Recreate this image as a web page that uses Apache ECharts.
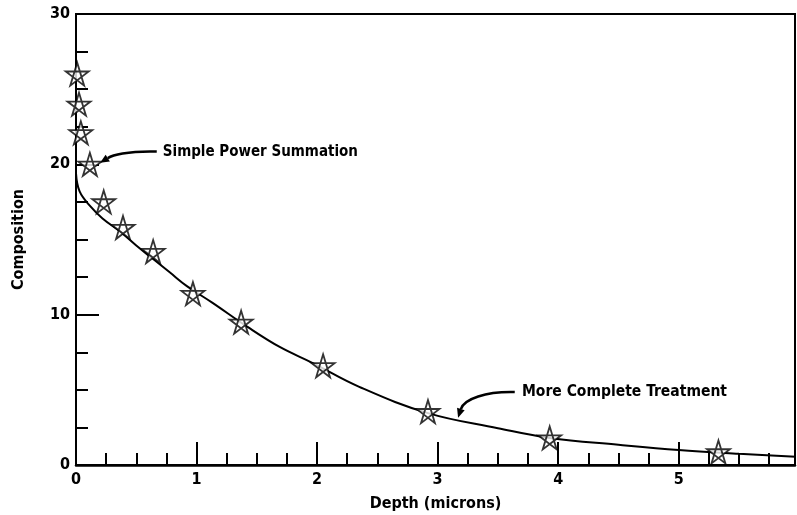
<!DOCTYPE html>
<html><head><meta charset="utf-8">
<script src="https://cdn.jsdelivr.net/npm/echarts@6/dist/echarts.min.js"></script>
<style>html,body{margin:0;padding:0;background:#fff}#c{width:797px;height:515px}</style>
</head><body><div id="c"></div>
<script>
// Data
var curveX = [0, 0.03, 0.12, 0.22, 0.37, 0.5, 0.64, 0.78, 0.92, 1.13, 1.42, 1.69, 1.96, 2.35, 2.92, 3.5, 3.93, 4.5, 5.0, 5.5, 5.97];
var curveY = [19.4, 18.2, 17.2, 16.4, 15.5, 14.6, 13.7, 12.8, 11.9, 10.8, 9.2, 7.85, 6.8, 5.2, 3.45, 2.45, 1.8, 1.35, 1.0, 0.75, 0.55];
var starX = [0.01, 0.025, 0.04, 0.115, 0.23, 0.39, 0.64, 0.97, 1.37, 2.05, 2.92, 3.93, 5.33];
var starY = [26.0, 24.0, 22.1, 20.0, 17.5, 15.8, 14.2, 11.4, 9.5, 6.6, 3.55, 1.8, 0.87];
var xTickLabels = ['0', '1', '2', '3', '4', '5'];
var yTickLabels = ['0', '10', '20', '30'];
var labelSimple = 'Simple Power Summation';
var labelComplete = 'More Complete Treatment';

var FONT = 'DejaVu Sans Condensed';
var chart = echarts.init(document.getElementById('c'));
var curveData = curveX.map(function (x, i) { return [x, curveY[i]]; });
var starData = starX.map(function (x, i) { return [x, starY[i]]; });
var starPath = 'path://M50,0 L79,91 L2,35 L98,35 L21,91 Z';

chart.setOption({
  animation: false,
  backgroundColor: '#fff',
  grid: { left: 76, top: 14, width: 719, height: 451, show: true, borderColor: '#000', borderWidth: 2,
    outerBoundsMode: 'none', containLabel: false },
  xAxis: {
    type: 'value', min: 0, max: 5.965, interval: 1,
    name: 'Depth (microns)', nameLocation: 'middle', nameGap: 31,
    nameTextStyle: { fontFamily: FONT, fontWeight: 'bold', fontSize: 16, color: '#000' },
    axisLine: { lineStyle: { color: '#000', width: 2.5 } },
    axisTick: { inside: true, length: 23, lineStyle: { color: '#000', width: 2 } },
    minorTick: { show: true, splitNumber: 4, length: 12, lineStyle: { color: '#000', width: 2 } },
    splitLine: { show: false },
    axisLabel: { fontFamily: FONT, fontWeight: 'bold', fontSize: 16, color: '#000', margin: 7, showMaxLabel: false,
      formatter: function (v) { var i = Math.round(v); return xTickLabels[i] !== undefined ? xTickLabels[i] : ''; } }
  },
  yAxis: {
    type: 'value', min: 0, max: 30, interval: 10,
    name: 'Composition', nameLocation: 'middle', nameGap: 49, nameRotate: 90,
    nameTextStyle: { fontFamily: FONT, fontWeight: 'bold', fontSize: 16, color: '#000' },
    axisLine: { show: true, lineStyle: { color: '#000', width: 2 } },
    axisTick: { inside: true, length: 23, lineStyle: { color: '#000', width: 2 } },
    minorTick: { show: true, splitNumber: 4, length: 12, lineStyle: { color: '#000', width: 2 } },
    splitLine: { show: false },
    axisLabel: { fontFamily: FONT, fontWeight: 'bold', fontSize: 16, color: '#000', margin: 6,
      formatter: function (v) { return yTickLabels[Math.round(v / 10)] || ''; } }
  },
  series: [
    { type: 'line', data: curveData, smooth: 0.4, symbol: 'none', clip: true,
      lineStyle: { color: '#000', width: 2 }, z: 3 },
    { type: 'scatter', data: starData, symbol: starPath, symbolSize: 23, clip: false,
      itemStyle: { color: '#fff', borderColor: '#000', borderWidth: 1.8 }, z: 4 }
  ]
});

// Annotations anchored in data coordinates
function px(p) { return chart.convertToPixel({ gridIndex: 0 }, p); }
function arrow(from, c1, c2, tip) {
  var a = px(from), b = px(c1), c = px(c2), d = px(tip);
  var dx = d[0] - c[0], dy = d[1] - c[1], L = Math.sqrt(dx * dx + dy * dy);
  var ux = dx / L, uy = dy / L, h = 9, w = 4;
  var base = [d[0] - ux * h, d[1] - uy * h];
  return [
    { type: 'bezierCurve', shape: { x1: a[0], y1: a[1], cpx1: b[0], cpy1: b[1], cpx2: c[0], cpy2: c[1], x2: base[0], y2: base[1] },
      style: { stroke: '#000', lineWidth: 2.5, fill: null }, z: 10 },
    { type: 'polygon', shape: { points: [d, [base[0] - uy * w, base[1] + ux * w], [base[0] + uy * w, base[1] - ux * w]] },
      style: { fill: '#000' }, z: 10 }
  ];
}
var t1 = px([0.72, 20.8]), t2 = px([3.70, 4.88]);
var g = [
  { type: 'text', x: t1[0], y: t1[1], style: { text: labelSimple, font: 'bold 15px "' + FONT + '"', fill: '#000', textVerticalAlign: 'middle' }, z: 10 },
  { type: 'text', x: t2[0], y: t2[1], style: { text: labelComplete, font: 'bold 15.5px "' + FONT + '"', fill: '#000', textVerticalAlign: 'middle' }, z: 10 }
];
g = g.concat(arrow([0.67, 20.85], [0.42, 20.9], [0.3, 20.6], [0.2, 20.1]));
g = g.concat(arrow([3.64, 4.85], [3.4, 4.9], [3.22, 4.4], [3.17, 3.15]));
chart.setOption({ graphic: g });
</script></body></html>
